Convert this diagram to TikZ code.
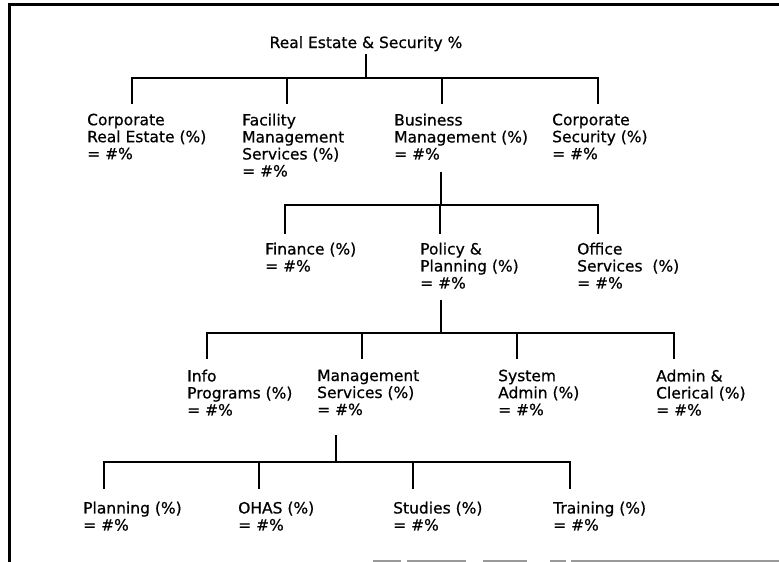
\documentclass[tikz,border=0pt]{standalone}
\usepackage{fontspec}
\setmainfont{DejaVu Sans}[FakeBold=0.6]
\usetikzlibrary{calc}
\begin{document}
\begin{tikzpicture}[x=1pt,y=-1pt,
  box/.style={anchor=north west, inner sep=0pt, align=left,
              font=\fontsize{15.5}{17}\selectfont},
  link/.style={line width=1.8pt, line join=miter},
  frame/.style={line width=3pt, line join=miter},
  edge/.style={line width=1.5pt, draw=black!40}]
\useasboundingbox (0,0) rectangle (779,562);
\fill[white] (0,0) rectangle (779,562);

% page frame
\draw[frame] (779,4.6) -- (9,4.6) -- (9,562);
\draw[edge] (373,561) -- (401,561);
\draw[edge] (407,561) -- (466,561);
\draw[edge] (483,561) -- (527,561);
\draw[edge] (550,561) -- (566,561);
\draw[edge] (571,561) -- (779,561);

% top
\node[box, anchor=base] (root) at (366,48) {Real Estate \& Security \%};

% level 1
\node[box] (cre) at (87,113.5)  {Corporate\\Real Estate (\%)\\= \#\%};
\node[box] (fms) at (242,113.5) {Facility\\Management\\Services (\%)\\= \#\%};
\node[box] (bm)  at (394,113.5) {Business\\Management (\%)\\= \#\%};
\node[box] (cs)  at (552,113.5) {Corporate\\Security (\%)\\= \#\%};

% level 2
\node[box] (fin) at (265,242.5) {Finance (\%)\\= \#\%};
\node[box] (pp)  at (420,242.5) {Policy \&\\Planning (\%)\\= \#\%};
\node[box] (os)  at (577,242.5) {Office\\Services~~(\%)\\= \#\%};

% level 3
\node[box] (ip) at (187,369.5) {Info\\Programs (\%)\\= \#\%};
\node[box] (ms) at (317,369.5) {Management\\Services (\%)\\= \#\%};
\node[box] (sa) at (498,369.5) {System\\Admin (\%)\\= \#\%};
\node[box] (ac) at (656,369.5) {Admin \&\\Clerical (\%)\\= \#\%};

% level 4
\node[box] (pl) at (83,501.5)  {Planning (\%)\\= \#\%};
\node[box] (oh) at (238,501.5) {OHAS (\%)\\= \#\%};
\node[box] (st) at (393,501.5) {Studies (\%)\\= \#\%};
\node[box] (tr) at (553,501.5) {Training (\%)\\= \#\%};

% junctions on the horizontal bars
\coordinate (j0) at (366,78);
\coordinate (t1) at (132,78);  \coordinate (t2) at (287,78);
\coordinate (t3) at (442,78);  \coordinate (t4) at (598,78);

\coordinate (u0) at (441,205);
\coordinate (u1) at (285,205); \coordinate (u2) at (440,205);
\coordinate (u3) at (598,205);

\coordinate (v0) at (441,333);
\coordinate (v1) at (207,333); \coordinate (v2) at (362,333);
\coordinate (v3) at (517,333); \coordinate (v4) at (674,333);

\coordinate (w0) at (336,462);
\coordinate (w1) at (104,462); \coordinate (w2) at (259,462);
\coordinate (w3) at (413,462); \coordinate (w4) at (570,462);

% root to level 1
\draw[link, shorten <=3pt] (root.south) -- (j0);
\draw[link, shorten <=10pt, shorten >=10pt]
  (t1 |- cre.north) -- (t1) -- (t4) -- (t4 |- cs.north);
\draw[link, shorten >=10pt] (t2) -- (t2 |- fms.north);
\draw[link, shorten >=10pt] (t3) -- (t3 |- bm.north);

% business management to level 2
\draw[link, shorten <=12pt] (bm.south -| u0) -- (u0);
\draw[link, shorten <=9pt, shorten >=9pt]
  (u1 |- fin.north) -- (u1) -- (u3) -- (u3 |- os.north);
\draw[link, shorten >=9pt] (u2) -- (u2 |- pp.north);

% policy & planning to level 3
\draw[link, shorten <=11pt] (pp.south -| v0) -- (v0);
\draw[link, shorten <=11pt, shorten >=11pt]
  (v1 |- ip.north) -- (v1) -- (v4) -- (v4 |- ac.north);
\draw[link, shorten >=11pt] (v2) -- (v2 |- ms.north);
\draw[link, shorten >=11pt] (v3) -- (v3 |- sa.north);

% management services to level 4
\draw[link, shorten <=20pt] (ms.south -| w0) -- (w0);
\draw[link, shorten <=13pt, shorten >=13pt]
  (w1 |- pl.north) -- (w1) -- (w4) -- (w4 |- tr.north);
\draw[link, shorten >=13pt] (w2) -- (w2 |- oh.north);
\draw[link, shorten >=13pt] (w3) -- (w3 |- st.north);
\end{tikzpicture}
\end{document}
